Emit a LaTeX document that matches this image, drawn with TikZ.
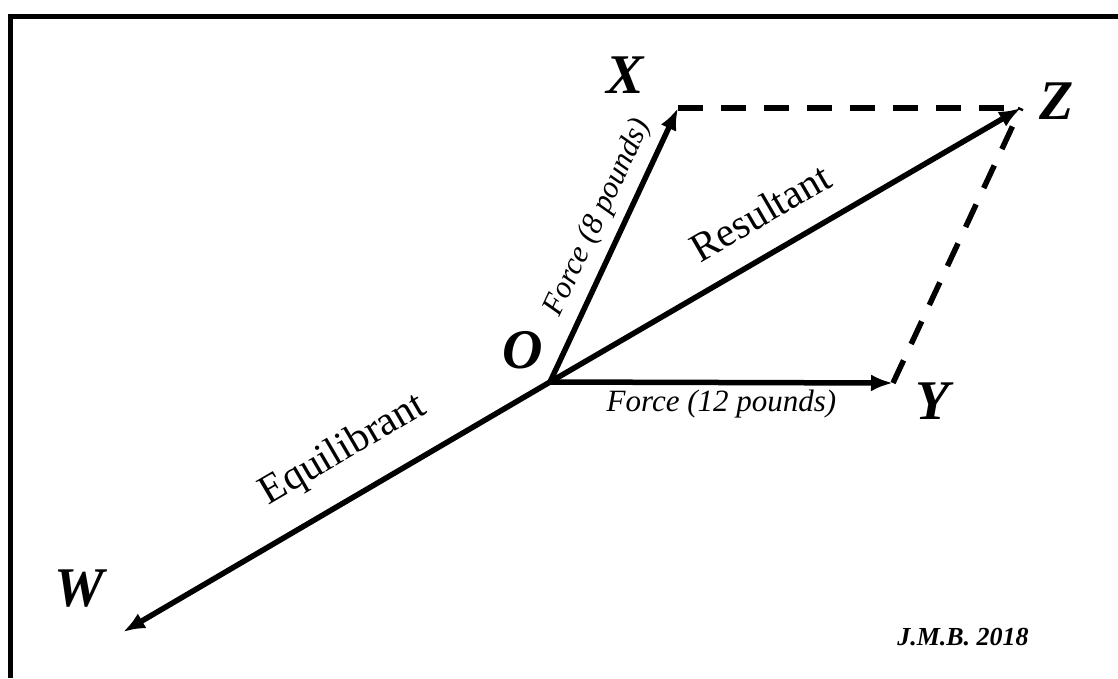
\documentclass[tikz,border=0pt]{standalone}
\usepackage{fontspec}
\setmainfont{Liberation Serif}
\usetikzlibrary{arrows.meta,positioning}

\begin{document}
\begin{tikzpicture}[
  x=1pt, y=-1pt,
  vec/.style={line width=5.5pt, -{Latex[length=22pt,width=17pt]}},
  guide/.style={line width=5.5pt, dash pattern=on 25pt off 18pt},
  ptlabel/.style={font=\fontsize{56}{56}\selectfont\bfseries\itshape, inner sep=0pt},
  forcelabel/.style={font=\fontsize{31}{31}\selectfont\itshape, inner sep=5pt},
  namelabel/.style={font=\fontsize{41}{41}\selectfont, inner sep=12pt}
]
\useasboundingbox (0,0) rectangle (1118,678);
\draw[line width=5pt] (10,678) -- (10,16) -- (1118,16);

\coordinate (O) at (550,382);
\coordinate (X) at (678,108);
\coordinate (Y) at (893,383);
\coordinate (Z) at (1021,108);
\coordinate (W) at (123,632);

\node[ptlabel] (labO) at ([shift={(-27,-32)}]O) {O};
\node[ptlabel] (labX) at ([shift={(-53,-33)}]X) {X};
\node[ptlabel] (labY) at ([shift={(40,18)}]Y) {Y};
\node[ptlabel] (labZ) at ([shift={(36,-7)}]Z) {Z};
\node[ptlabel] (labW) at ([shift={(-44,-43)}]W) {W};

\draw[guide] (X) -- (Z);
\draw[guide] (Y) -- (Z);

\draw[vec] (O) -- (X) node[forcelabel, sloped, above=4pt, pos=.56] {Force (8 pounds)};
\draw[vec] (O) -- (Y) node[forcelabel, below, pos=.5] {Force (12 pounds)};
\draw[vec] (O) -- (Z) node[namelabel, sloped, above=12pt, pos=.49] {Resultant};
\draw[vec] (O) -- (W) node[namelabel, sloped, above=12pt, pos=.43] {Equilibrant};

\node[font=\fontsize{26}{26}\selectfont\bfseries\itshape] (sig) at (963,637) {J.M.B. 2018};
\end{tikzpicture}
\end{document}
